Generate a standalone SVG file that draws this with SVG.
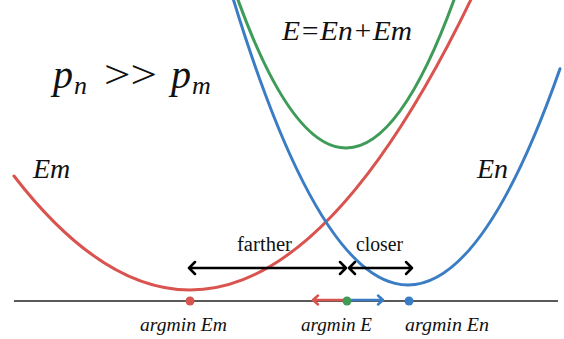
<svg xmlns="http://www.w3.org/2000/svg" width="564" height="339" viewBox="0 0 564 339">
<defs>
<style>
.curve{fill:none;stroke-width:3;stroke-linecap:round}
.red{stroke:#d9534f}
.blue{stroke:#3b7dc4}
.green{stroke:#3f9b58}
.blk{stroke:#000;stroke-width:2.5;fill:none;stroke-linecap:round;stroke-linejoin:round}
.lab{font-family:"Liberation Serif",serif;font-style:italic;fill:#111}
.word{font-family:"Liberation Serif",serif;font-size:20px;fill:#111}
</style>
</defs>
<rect width="564" height="339" fill="#fff"/>
<line x1="14" y1="301" x2="558" y2="301" stroke="#222" stroke-width="1.3"/>
<g id="curve-Em"><path class="curve red" d="M14,176 Q243,472.6 472,-2.6"/></g>
<g id="curve-En"><path class="curve blue" d="M230,-11.6 Q395,538.2 560,68.7"/></g>
<g id="curve-E"><path class="curve green" d="M238,-0.1 Q346.5,297.5 455,-2.9"/></g>
<g id="connectors">
<path class="blk" d="M189,268 H346 M195,262 L189,268 L195,274 M340,262 L346,268 L340,274"/>
<path class="blk" d="M349,268 H412 M355,262 L349,268 L355,274 M406,262 L412,268 L406,274"/>
<path fill="none" stroke="#d9534f" stroke-width="2.5" stroke-linecap="round" stroke-linejoin="round" d="M346,300 H313 M318,295.5 L313,300 L318,304.5"/>
<path fill="none" stroke="#3b7dc4" stroke-width="2.5" stroke-linecap="round" stroke-linejoin="round" d="M347,300 H383 M378,295.5 L383,300 L378,304.5"/>
</g>
<g id="dot-Em"><circle cx="190" cy="301" r="4.5" fill="#d9534f"/><text class="lab" x="140" y="331" font-size="19" textLength="87" lengthAdjust="spacingAndGlyphs">argmin Em</text></g>
<g id="dot-E"><circle cx="347" cy="301" r="4.5" fill="#3f9b58"/><text class="lab" x="301" y="331" font-size="19" textLength="71" lengthAdjust="spacingAndGlyphs">argmin E</text></g>
<g id="dot-En"><circle cx="409" cy="301" r="4.5" fill="#3b7dc4"/><text class="lab" x="405" y="331" font-size="19" textLength="84" lengthAdjust="spacingAndGlyphs">argmin En</text></g>
<g id="label-farther"><text class="word" x="237" y="251" textLength="55" lengthAdjust="spacingAndGlyphs">farther</text></g>
<g id="label-closer"><text class="word" x="356" y="251" textLength="47" lengthAdjust="spacingAndGlyphs">closer</text></g>
<g id="label-E"><text class="lab" x="282" y="40" font-size="27" textLength="130" lengthAdjust="spacingAndGlyphs">E=En+Em</text></g>
<g id="label-Em"><text class="lab" x="33" y="178" font-size="28">Em</text></g>
<g id="label-En"><text class="lab" x="477" y="178" font-size="28">En</text></g>
<g id="label-p"><text y="88" font-family="Liberation Serif,serif" font-size="40" fill="#111"><tspan x="53" font-style="italic">p</tspan><tspan x="74" y="94" font-style="italic" font-size="26">n</tspan><tspan x="104" y="88" textLength="53" lengthAdjust="spacingAndGlyphs">&gt;&gt;</tspan><tspan x="171" font-style="italic">p</tspan><tspan x="192" y="94" font-style="italic" font-size="26">m</tspan></text></g>
</svg>
